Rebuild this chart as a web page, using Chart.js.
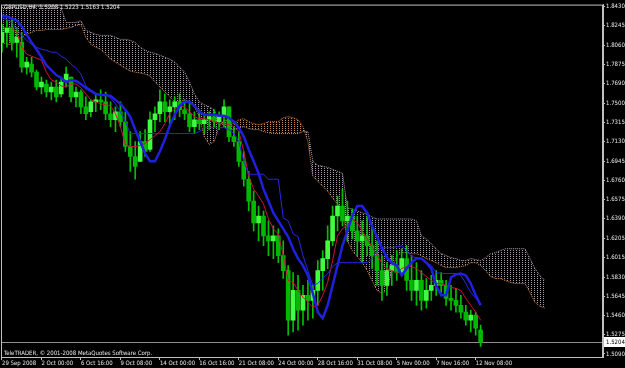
<!DOCTYPE html>
<html>
<head>
<meta charset="utf-8">
<script src="https://cdn.jsdelivr.net/npm/chart.js@4/dist/chart.umd.min.js"></script>
<style>
  html, body { margin: 0; padding: 0; background: #000; }
  #wrap { width: 625px; height: 368px; }
</style>
</head>
<body>
<div id="wrap"><canvas id="grafico" width="625" height="368"></canvas></div>
<script>
// GBPUSD H4 - um ponto = 8 horas (slot), eixo x em slots
const xTickSlots = [0, 8, 16, 24, 32, 40, 48, 56, 64, 72, 80, 88, 96];
const xTickLabels = ['29 Sep 2008', '2 Oct 00:00', '6 Oct 16:00', '9 Oct 08:00', '14 Oct 00:00', '16 Oct 16:00',
  '21 Oct 08:00', '24 Oct 00:00', '28 Oct 16:00', '31 Oct 08:00', '5 Nov 00:00', '7 Nov 16:00', '12 Nov 08:00'];
const yTickValues = [1.8430, 1.8245, 1.8060, 1.7875, 1.7690, 1.7500, 1.7315, 1.7130, 1.6945, 1.6760,
  1.6575, 1.6390, 1.6205, 1.6015, 1.5830, 1.5645, 1.5460, 1.5275, 1.5090];

const barOpen = [
  1.8086,1.8182,1.8229,1.8086,1.8086,1.7848,1.7877,1.7800,1.7657,1.7686,
  1.7609,1.7657,1.7590,1.7705,1.7753,1.7562,1.7609,1.7466,1.7419,1.7514,
  1.7533,1.7514,1.7400,1.7342,1.7419,1.7323,1.7085,1.6989,1.6942,1.7132,
  1.7056,1.7342,1.7400,1.7514,1.7419,1.7466,1.7514,1.7438,1.7400,1.7276,
  1.7342,1.7304,1.7342,1.7371,1.7323,1.7371,1.7466,1.7180,1.7132,1.6942,
  1.6770,1.6560,1.6350,1.6417,1.6226,1.6178,1.6226,1.6035,1.5892,1.5415,
  1.5701,1.5511,1.5654,1.5606,1.5701,1.5892,1.6007,1.6178,1.6417,1.6512,
  1.6369,1.6417,1.6274,1.6178,1.6226,1.6131,1.6035,1.5892,1.5749,1.5892,
  1.5940,1.5873,1.6007,1.5797,1.5701,1.5797,1.5606,1.5701,1.5749,1.5797,
  1.5749,1.5625,1.5606,1.5558,1.5492,1.5415,1.5463,1.5320];
const barHigh = [
  1.8258,1.8296,1.8325,1.8229,1.8182,1.7943,1.7943,1.7819,1.7753,1.7724,
  1.7705,1.7724,1.7753,1.7848,1.7753,1.7657,1.7629,1.7562,1.7533,1.7590,
  1.7629,1.7609,1.7514,1.7466,1.7514,1.7419,1.7228,1.7132,1.7228,1.7247,
  1.7419,1.7466,1.7629,1.7590,1.7533,1.7562,1.7590,1.7533,1.7514,1.7419,
  1.7438,1.7400,1.7419,1.7438,1.7419,1.7533,1.7466,1.7276,1.7228,1.7037,
  1.6846,1.6655,1.6512,1.6465,1.6369,1.6321,1.6293,1.6178,1.5940,1.5873,
  1.5845,1.5749,1.5797,1.5749,1.5988,1.6083,1.6321,1.6512,1.6608,1.6675,
  1.6560,1.6484,1.6417,1.6369,1.6417,1.6350,1.6178,1.6035,1.5968,1.6035,
  1.6083,1.6102,1.6131,1.6035,1.5968,1.5892,1.5816,1.5845,1.5892,1.5873,
  1.5797,1.5749,1.5721,1.5654,1.5558,1.5511,1.5492,1.5368];
const barLow = [
  1.7991,1.8039,1.8010,1.7943,1.7800,1.7781,1.7753,1.7629,1.7590,1.7562,
  1.7533,1.7514,1.7562,1.7657,1.7514,1.7466,1.7400,1.7342,1.7371,1.7419,
  1.7438,1.7342,1.7276,1.7228,1.7276,1.7037,1.6846,1.6770,1.6942,1.6989,
  1.7037,1.7228,1.7323,1.7323,1.7276,1.7342,1.7371,1.7342,1.7228,1.7209,
  1.7247,1.7209,1.7247,1.7276,1.7247,1.7276,1.7132,1.7085,1.6894,1.6703,
  1.6465,1.6274,1.6178,1.6131,1.6035,1.6007,1.5968,1.5816,1.5272,1.5301,
  1.5320,1.5368,1.5415,1.5434,1.5558,1.5701,1.5911,1.6131,1.6274,1.6321,
  1.6178,1.6197,1.6035,1.5968,1.6035,1.5911,1.5749,1.5606,1.5654,1.5749,
  1.5797,1.5845,1.5701,1.5606,1.5558,1.5511,1.5530,1.5606,1.5654,1.5682,
  1.5558,1.5511,1.5492,1.5434,1.5368,1.5301,1.5272,1.5163];
const barClose = [
  1.8182,1.8229,1.8086,1.8134,1.7848,1.7896,1.7800,1.7657,1.7705,1.7609,
  1.7657,1.7562,1.7705,1.7781,1.7562,1.7609,1.7466,1.7400,1.7514,1.7533,
  1.7514,1.7400,1.7342,1.7419,1.7323,1.7085,1.6989,1.6894,1.7132,1.7037,
  1.7342,1.7400,1.7514,1.7419,1.7466,1.7514,1.7438,1.7400,1.7276,1.7342,
  1.7304,1.7342,1.7371,1.7323,1.7371,1.7466,1.7180,1.7132,1.6942,1.6770,
  1.6560,1.6350,1.6417,1.6226,1.6178,1.6226,1.6035,1.5892,1.5415,1.5701,
  1.5511,1.5654,1.5606,1.5701,1.5892,1.6007,1.6178,1.6417,1.6512,1.6369,
  1.6417,1.6274,1.6178,1.6226,1.6131,1.6035,1.5892,1.5749,1.5892,1.5940,
  1.5873,1.6007,1.5797,1.5701,1.5797,1.5606,1.5701,1.5749,1.5797,1.5749,
  1.5625,1.5606,1.5558,1.5492,1.5415,1.5463,1.5339,1.5204];

// linha azul grossa
const thickBlue = [
  1.8344,1.8334,1.8315,1.8296,1.8239,1.8163,1.8086,1.8020,1.7943,1.7867,
  1.7819,1.7772,1.7743,1.7705,1.7724,1.7714,1.7686,1.7648,1.7619,1.7590,
  1.7581,1.7581,1.7571,1.7533,1.7495,1.7438,1.7371,1.7247,1.7132,1.7018,
  1.6942,1.6942,1.7037,1.7152,1.7285,1.7390,1.7476,1.7514,1.7514,1.7476,
  1.7419,1.7390,1.7390,1.7390,1.7380,1.7380,1.7361,1.7323,1.7266,1.7180,
  1.7056,1.6942,1.6827,1.6675,1.6560,1.6446,1.6369,1.6293,1.6217,1.6102,
  1.6007,1.5940,1.5845,1.5673,1.5492,1.5434,1.5558,1.5749,1.5940,1.6131,
  1.6274,1.6417,1.6512,1.6512,1.6446,1.6321,1.6217,1.6112,1.6016,1.5968,
  1.5940,1.5845,1.5911,1.5968,1.6007,1.6007,1.5968,1.5911,1.5749,1.5654,
  1.5654,1.5826,1.5854,1.5864,1.5845,1.5768,1.5654,1.5558];
// kijun (azul fino, em degraus)
const thinBlue = [
  1.8325,1.8306,1.8277,1.8210,1.8153,1.8106,1.8067,1.8039,1.8020,1.8010,
  1.7991,1.7991,1.7953,1.7924,1.7877,1.7838,1.7781,1.7667,1.7629,1.7600,
  1.7581,1.7581,1.7552,1.7495,1.7419,1.7323,1.7209,1.7209,1.7209,1.7209,
  1.7209,1.7209,1.7209,1.7209,1.7209,1.7209,1.7209,1.7209,1.7209,1.7209,
  1.7228,1.7266,1.7266,1.7266,1.7266,1.7266,1.7247,1.7209,1.7132,1.6942,
  1.6818,1.6818,1.6818,1.6818,1.6770,1.6770,1.6770,1.6398,1.6369,1.6245,
  1.6217,1.6035,1.5892,1.5749,1.5768,1.5816,1.5864,1.5930,1.5968,1.5968,
  1.5968,1.5968,1.5968,1.5968,1.5968,1.6007,1.6083,1.6112,1.6112,1.6112,
  1.6121,1.6131,1.6083,1.6026,1.6016,1.6007,1.5968,1.5940,1.5873,1.5864,
  1.5864,1.5864,1.5864,1.5845,1.5768,1.5682,1.5625,1.5577];
// tenkan (vermelho)
const redLine = [
  1.8229,1.8229,1.8229,1.8182,1.8039,1.7972,1.7953,1.7934,1.7915,1.7800,
  1.7724,1.7705,1.7667,1.7657,1.7686,1.7686,1.7648,1.7590,1.7533,1.7514,
  1.7495,1.7485,1.7476,1.7400,1.7276,1.7104,1.7085,1.7085,1.7094,1.7113,
  1.7152,1.7190,1.7228,1.7304,1.7400,1.7447,1.7476,1.7466,1.7419,1.7371,
  1.7352,1.7352,1.7342,1.7323,1.7304,1.7304,1.7295,1.7276,1.7228,1.7037,
  1.6799,1.6675,1.6608,1.6532,1.6388,1.6293,1.6245,1.6035,1.5797,1.5778,
  1.5701,1.5635,1.5587,1.5539,1.5558,1.5654,1.5778,1.5988,1.6226,1.6293,
  1.6331,1.6388,1.6350,1.6274,1.6197,1.6121,1.6035,1.5968,1.5911,1.5892,
  1.5873,1.5911,1.5930,1.5930,1.5911,1.5873,1.5835,1.5797,1.5768,1.5768,
  1.5749,1.5730,1.5721,1.5701,1.5625,1.5558,1.5492,1.5415];
// nuvem (deslocada para frente)
const spanA = [
  1.8086,1.8067,1.8067,1.8105,1.8134,1.8163,1.8182,1.8201,1.8201,1.8210,
  1.8210,1.8210,1.8210,1.8220,1.8229,1.8249,1.8258,1.8134,1.8067,1.8039,
  1.8020,1.7972,1.7924,1.7896,1.7867,1.7838,1.7810,1.7800,1.7791,1.7781,
  1.7762,1.7705,1.7657,1.7609,1.7562,1.7514,1.7514,1.7533,1.7514,1.7466,
  1.7371,1.7180,1.7104,1.7132,1.7276,1.7342,1.7323,1.7304,1.7342,1.7352,
  1.7323,1.7304,1.7295,1.7304,1.7323,1.7323,1.7323,1.7361,1.7371,1.7361,
  1.7342,1.7276,1.7132,1.6799,1.6751,1.6703,1.6655,1.6589,1.6531,1.6484,
  1.6178,1.6083,1.6026,1.5968,1.5892,1.5797,1.5701,1.5673,1.5701,1.5892,
  1.6035,1.6064,1.6064,1.6054,1.6054,1.6035,1.6007,1.5988,1.5968,1.5940,
  1.5921,1.5921,1.5921,1.5930,1.5940,1.5968,1.5968,1.5940,1.5892,1.5835,
  1.5816,1.5816,1.5797,1.5778,1.5768,1.5768,1.5768,1.5682,1.5587,1.5549,1.5530];
const spanB = [
  1.8420,1.8420,1.8420,1.8420,1.8420,1.8430,1.8430,1.8430,1.8430,1.8430,
  1.8430,1.8430,1.8411,1.8277,1.8277,1.8277,1.8296,1.8201,1.8182,1.8163,
  1.8153,1.8153,1.8153,1.8134,1.8115,1.8115,1.8105,1.8086,1.8039,1.8010,
  1.7991,1.7981,1.7962,1.7943,1.7924,1.7896,1.7848,1.7800,1.7705,1.7590,
  1.7514,1.7485,1.7466,1.7438,1.7342,1.7276,1.7247,1.7247,1.7266,1.7276,
  1.7257,1.7247,1.7247,1.7228,1.7218,1.7209,1.7209,1.7209,1.7209,1.7209,
  1.7209,1.7228,1.7228,1.6942,1.6904,1.6894,1.6884,1.6865,1.6846,1.6827,
  1.6493,1.6484,1.6465,1.6446,1.6436,1.6407,1.6388,1.6388,1.6388,1.6388,
  1.6388,1.6388,1.6388,1.6388,1.6369,1.6226,1.6197,1.6150,1.6102,1.6054,
  1.6035,1.6016,1.6007,1.5988,1.5988,1.6007,1.5997,1.5988,1.6016,1.6054,
  1.6064,1.6083,1.6102,1.6102,1.6102,1.6102,1.6102,1.6007,1.5911,1.5845,1.5797];

const lastPrice = 1.5204;
const familia = "'Liberation Sans Narrow', 'DejaVu Sans Condensed', 'Liberation Sans', sans-serif";
const fonte = '6px ' + familia;

function pts(arr) { return arr.map((v, i) => ({ x: i, y: v })); }

// padrão pontilhado da nuvem
function hachura(cor) {
  const c = document.createElement('canvas');
  c.width = 3; c.height = 2;
  const g = c.getContext('2d');
  g.fillStyle = cor;
  g.fillRect(0, 0, 1, 1);
  return g.createPattern(c, 'repeat');
}

const corpoCores = barClose.map((c, i) => c >= barOpen[i] ? '#40ff40' : '#00b800');

const moldura = {
  id: 'moldura',
  beforeDatasetsDraw(chart) {
    const { ctx, chartArea: a, scales } = chart;
    const y = Math.round(scales.y.getPixelForValue(lastPrice)) + 0.5;
    ctx.save();
    ctx.strokeStyle = '#9a8c8c';
    ctx.lineWidth = 1;
    ctx.beginPath();
    ctx.moveTo(a.left, y);
    ctx.lineTo(a.right, y);
    ctx.stroke();
    ctx.restore();
  },
  afterDraw(chart) {
    const { ctx, chartArea: a, scales } = chart;
    ctx.save();
    ctx.strokeStyle = '#c0c0c0';
    ctx.lineWidth = 1;
    ctx.strokeRect(a.left + 0.5, a.top + 0.5, a.right - a.left - 1, a.bottom - a.top);
    ctx.font = fonte;
    ctx.fillStyle = '#e8e8e8';
    ctx.textBaseline = 'top';
    ctx.fillText('GBPUSD,H4  1.5208 1.5223 1.5163 1.5204', 4, 4);
    ctx.textBaseline = 'bottom';
    ctx.fillText('TeleTRADER, \u00a9 2001-2008 MetaQuotes Software Corp.', 4, 356);
    // caixa do preço atual
    const y = Math.round(scales.y.getPixelForValue(lastPrice));
    ctx.fillStyle = '#ffffff';
    ctx.fillRect(a.right + 1, y - 5, 21, 10);
    ctx.fillStyle = '#000000';
    ctx.textBaseline = 'middle';
    ctx.fillText(lastPrice.toFixed(4), a.right + 3, y);
    ctx.restore();
  }
};

const grafico = new Chart(document.getElementById('grafico'), {
  type: 'bar',
  data: {
    datasets: [
      {
        type: 'line', data: pts(spanA), borderColor: '#e0883c', borderWidth: 1, borderDash: [1, 1],
        pointRadius: 0, tension: 0, order: 10,
        fill: { target: '+1', above: hachura('#c88a50'), below: hachura('#a898a8') }
      },
      {
        type: 'line', data: pts(spanB), borderColor: '#b0a0b0', borderWidth: 1, borderDash: [1, 1],
        pointRadius: 0, tension: 0, order: 10, fill: false
      },
      {
        data: barLow.map((v, i) => ({ x: i, y: [v, barHigh[i]] })),
        backgroundColor: '#00c000', barThickness: 1, grouped: false, order: 6
      },
      {
        data: barOpen.map((v, i) => ({ x: i, y: [v, barClose[i]] })),
        backgroundColor: corpoCores, barThickness: 4, minBarLength: 1, grouped: false, order: 5
      },
      {
        type: 'line', data: pts(redLine), borderColor: '#d01040', borderWidth: 1,
        pointRadius: 0, tension: 0, order: 3
      },
      {
        type: 'line', data: pts(thinBlue), borderColor: '#2828e0', borderWidth: 1,
        pointRadius: 0, tension: 0, order: 2
      },
      {
        type: 'line', data: pts(thickBlue), borderColor: '#2020e0', borderWidth: 2.5,
        pointRadius: 0, tension: 0, order: 1
      }
    ]
  },
  options: {
    responsive: false,
    animation: false,
    devicePixelRatio: 1,
    layout: { padding: { left: 1, top: 2, right: 0, bottom: 0 } },
    plugins: { legend: { display: false }, tooltip: { enabled: false } },
    scales: {
      x: {
        type: 'linear', min: -0.2, max: 121.8, offset: false,
        afterBuildTicks: s => { s.ticks = xTickSlots.map(v => ({ value: v })); },
        afterFit: s => { s.height = 11; },
        ticks: {
          autoSkip: false, maxRotation: 0, align: 'start', padding: 0,
          color: '#e8e8e8', font: { family: familia, size: 6 },
          callback: (v, i) => xTickLabels[i]
        },
        grid: { drawOnChartArea: false, drawTicks: true, tickLength: 3, color: '#c0c0c0', offset: false },
        border: { display: true, color: '#c0c0c0' }
      },
      y: {
        position: 'right', min: 1.5061, max: 1.8449,
        afterBuildTicks: s => { s.ticks = yTickValues.map(v => ({ value: v })); },
        afterFit: s => { s.width = 22; },
        ticks: {
          padding: 1, color: '#e8e8e8',
          font: { family: familia, size: 6 },
          callback: v => Number(v).toFixed(4)
        },
        grid: { drawOnChartArea: false, drawTicks: true, tickLength: 2, color: '#c0c0c0' },
        border: { display: true, color: '#c0c0c0' }
      }
    }
  },
  plugins: [moldura]
});
</script>
</body>
</html>
